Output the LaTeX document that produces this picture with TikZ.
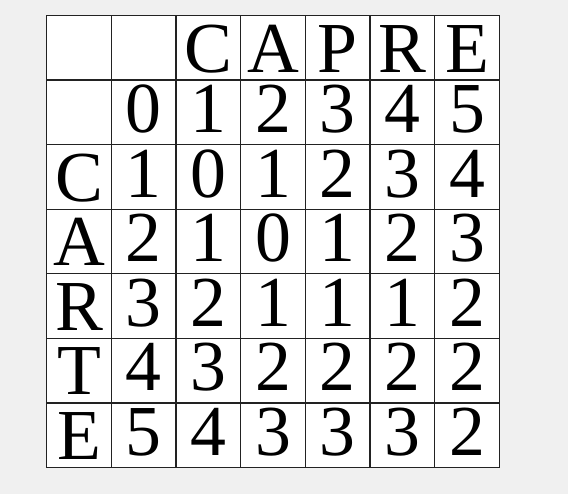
\documentclass[tikz,border=0pt]{standalone}
\usepackage{fontspec}
\setmainfont{Liberation Serif}
\definecolor{bg}{HTML}{F0F0F0}
\definecolor{rule}{HTML}{222222}
\begin{document}
\begin{tikzpicture}[x=1bp,y=-1bp,
  letter/.style={anchor=base,inner sep=0pt,font=\fontsize{72}{72}\selectfont},
  cost/.style={letter},
  gridline/.style={color=rule,line width=1.4pt}]
  \fill[bg] (0,0) rectangle (568,494);
  \fill[white] (46.7,15.5) rectangle (499.3,467.5);
  \foreach \i in {0,...,7}
    \draw[gridline] ({46.7+\i*64.66},15.5) -- ({46.7+\i*64.66},467.5);
  \foreach \i in {0,...,7}
    \draw[gridline] (46.7,{15.5+\i*64.57}) -- (499.3,{15.5+\i*64.57});
  % word across the top
  \foreach \ch [count=\c from 2] in {C,A,P,R,E}
    \node[letter] (top\c) at ({46.7+(\c+0.5)*64.66},{15.5+64.57-8}) {\ch};
  % word down the side
  \foreach \ch [count=\r from 2] in {C,A,R,T,E}
    \node[letter] (side\r) at ({46.7+0.5*64.66},{15.5+(\r+1)*64.57-8}) {\ch};
  % distances
  \foreach \row [count=\r from 1] in {{0,1,2,3,4,5},{1,0,1,2,3,4},{2,1,0,1,2,3},
      {3,2,1,1,1,2},{4,3,2,2,2,2},{5,4,3,3,3,2}}
    \foreach \v [count=\c from 1] in \row
      \node[cost] (d\r\c) at ({46.7+(\c+0.5)*64.66},{15.5+(\r+1)*64.57-12}) {\v};
\end{tikzpicture}
\end{document}
